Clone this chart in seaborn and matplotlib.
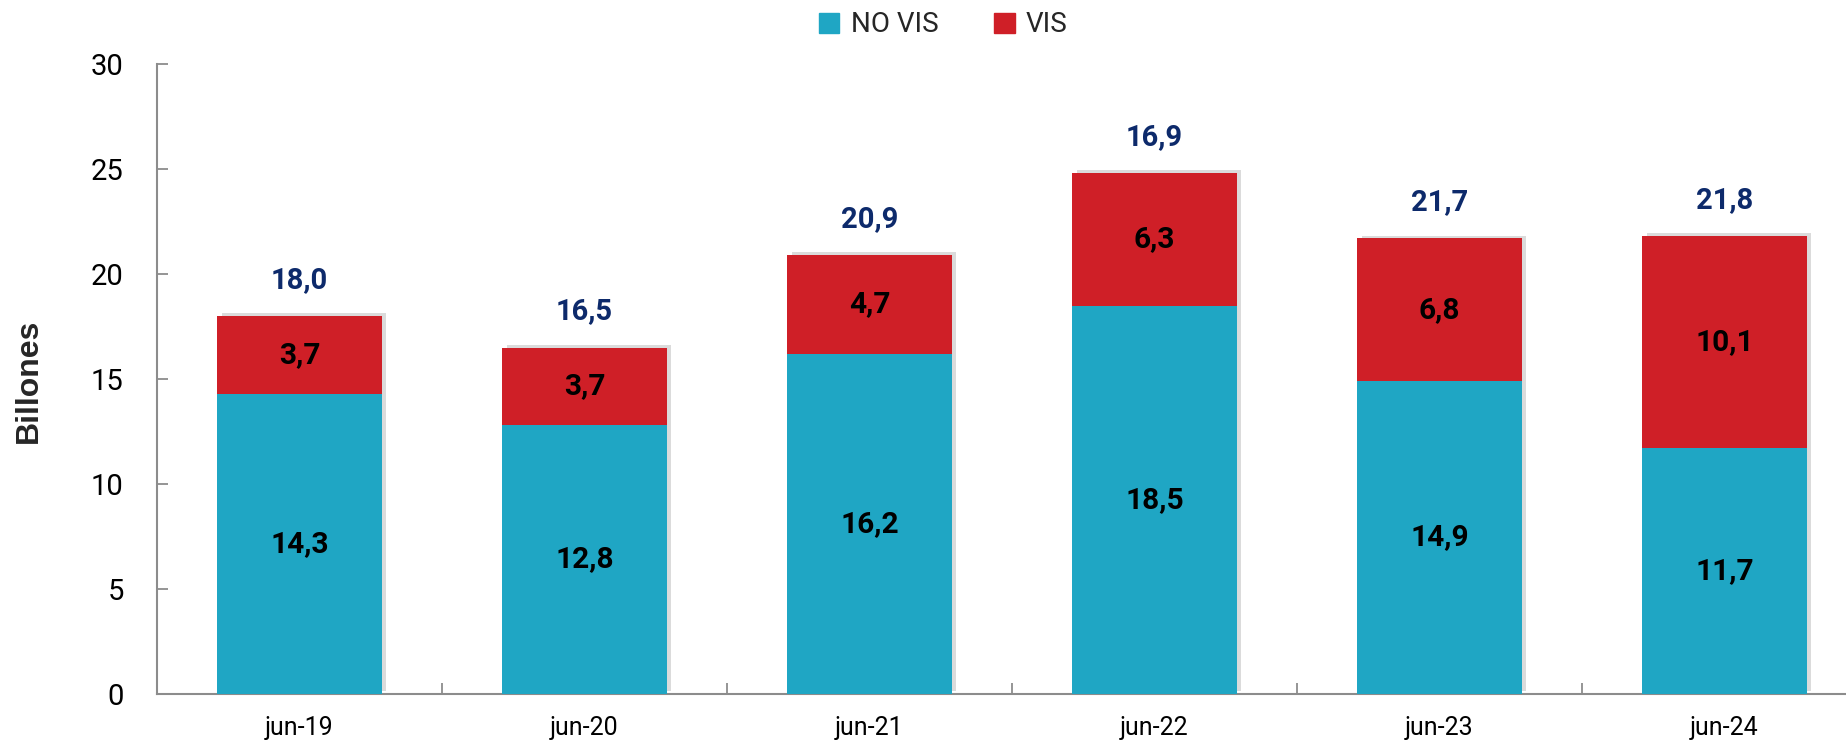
import numpy as np
import pandas as pd
import seaborn as sns
import matplotlib.pyplot as plt
import matplotlib.patheffects as pe
from matplotlib.patches import Patch

# data
periodos = ['jun-19', 'jun-20', 'jun-21', 'jun-22', 'jun-23', 'jun-24']
no_vis = [14.3, 12.8, 16.2, 18.5, 14.9, 11.7]
vis = [3.7, 3.7, 4.7, 6.3, 6.8, 10.1]
etiquetas_total = ['18,0', '16,5', '20,9', '16,9', '21,7', '21,8']

color_novis = '#1FA6C4'
color_vis = '#CF1F27'
color_total = '#0D2A6B'
gris = '#8C8C8C'

df = pd.DataFrame({'periodo': periodos, 'NO VIS': no_vis, 'VIS': vis})
df['total'] = df['NO VIS'] + df['VIS']

sns.set_style('white')
plt.rcParams['font.family'] = ['Roboto', 'DejaVu Sans']

fig = plt.figure(figsize=(18.46, 7.46), dpi=100)
ax = fig.add_axes([157 / 1846, 52 / 746, 1710 / 1846, 630 / 746])

sombra = [pe.SimplePatchShadow(offset=(3, 2), shadow_rgbFace='#888888', alpha=0.3), pe.Normal()]

# stacked bars: total in red, then NO VIS in teal on top
sns.barplot(data=df, x='periodo', y='total', color=color_vis, width=0.576,
            saturation=1, ax=ax, zorder=2)
sns.barplot(data=df, x='periodo', y='NO VIS', color=color_novis, width=0.576,
            saturation=1, ax=ax, zorder=3)
for p in ax.patches:
    p.set_linewidth(0)
for p in ax.patches[:len(periodos)]:
    p.set_path_effects(sombra)

# segment labels
for i in range(len(periodos)):
    ax.text(i, no_vis[i] / 2, f'{no_vis[i]:.1f}'.replace('.', ','), ha='center', va='center',
            fontsize=21.5, fontweight='bold', color='black', zorder=5)
    ax.text(i, no_vis[i] + vis[i] / 2, f'{vis[i]:.1f}'.replace('.', ','), ha='center', va='center',
            fontsize=21.5, fontweight='bold', color='black', zorder=5)
    ax.annotate(etiquetas_total[i], (i, df['total'][i]), xytext=(0, 26), textcoords='offset points',
                ha='center', va='center', fontsize=21, fontweight='bold', color=color_total)

ax.set_xlim(-0.5, len(periodos) - 0.5)
ax.set_ylim(0, 30)
ax.set_yticks(np.arange(0, 31, 5))
ax.set_xticks(np.arange(-0.5, len(periodos) - 0.5, 1), minor=True)

ax.tick_params(axis='y', left=True, direction='in', length=8, width=1.3, color=gris, pad=24,
               labelsize=21, labelcolor='black')
ax.tick_params(axis='x', which='major', bottom=False, length=0, pad=16, labelsize=18,
               labelcolor='black')
ax.tick_params(axis='x', which='minor', bottom=True, direction='in', length=8, width=1.3,
               color=gris)

for s in ['top', 'right']:
    ax.spines[s].set_visible(False)
for s in ['left', 'bottom']:
    ax.spines[s].set_color(gris)
    ax.spines[s].set_linewidth(1.5)

ax.set_xlabel('')
ax.set_ylabel('')
fig.text(29 / 1846, 1 - 381 / 746, 'Billones', rotation=90, ha='center', va='center',
         fontsize=23, fontweight='bold', family=['Liberation Sans', 'DejaVu Sans'])

handles = [Patch(color=color_novis, label='NO VIS'), Patch(color=color_vis, label='VIS')]
fig.legend(handles=handles, loc='center', bbox_to_anchor=(943 / 1846, 1 - 25 / 746), ncol=2,
           frameon=False, fontsize=20, handlelength=0.75, handleheight=0.75,
           handletextpad=0.4, columnspacing=2.0)

fig.savefig('out.png', dpi=100)
